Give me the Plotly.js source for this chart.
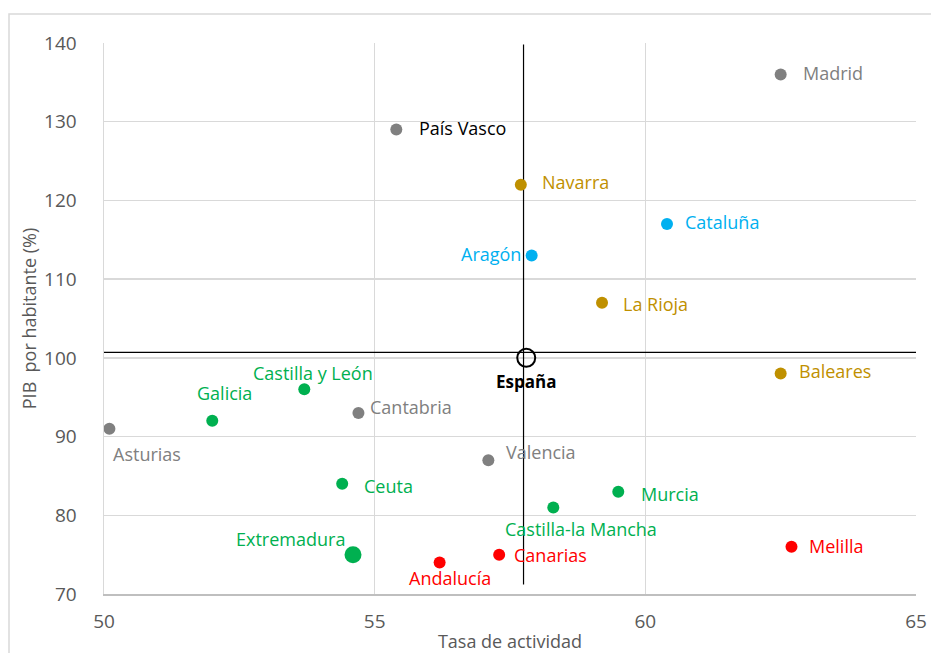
<!DOCTYPE html>
<html><head><meta charset="utf-8">
<script src="https://cdn.plot.ly/plotly-3.0.1.min.js"></script>
<style>html,body{margin:0;padding:0;background:#fff;}#chart{width:931px;height:653px;}</style>
</head><body><div id="chart"></div>
<script>
const regions = ["Madrid","País Vasco","Navarra","Cataluña","Aragón","La Rioja","Baleares","Castilla y León","Cantabria","Galicia","Asturias","Valencia","Ceuta","Murcia","Castilla-la Mancha","Melilla","Extremadura","Canarias","Andalucía"];
const tasaActividad = [62.5,55.4,57.7,60.4,57.9,59.2,62.5,53.7,54.7,52.0,50.1,57.1,54.4,59.5,58.3,62.7,54.6,57.3,56.2];
const pibHabitante = [136,129,122,117,113,107,98,96,93,92,91,87,84,83,81,76,75,75,74];
const groups = ["gray","gray","gold","blue","blue","gold","gold","green","gray","green","gray","gray","green","green","green","red","green","red","red"];
const espanaX = [57.8], espanaY = [100], espanaLabel = "España";
const vLineX = [57.75,57.75], vLineY = [71.2,139.8];
const hLineX = [50,65], hLineY = [100.7,100.7];
const xTicks = [50,55,60,65];
const yTicks = [70,80,90,100,110,120,130,140];

const colorMap = {gray:"#808080", gold:"#bf9000", blue:"#00b0f0", green:"#00b050", red:"#ff0000"};
const labelColor = {"País Vasco":"#000000"};
// label placement (style): [xanchor, xshift, yshift]
const place = {
 "Madrid":["left",20,1],"País Vasco":["left",21,2],"Navarra":["left",19,3],"Cataluña":["left",16,2],
 "Aragón":["right",-9,2],"La Rioja":["left",19,-1],"Baleares":["left",16,3],"Castilla y León":["center",9,16],
 "Cantabria":["left",10,6],"Galicia":["center",12,28],"Asturias":["left",2,-25],"Valencia":["left",16,8],
 "Ceuta":["left",20,-2],"Murcia":["left",21,-2],"Castilla-la Mancha":["center",28,-22],"Melilla":["left",16,1],
 "Extremadura":["right",-6,16],"Canarias":["left",13,0],"Andalucía":["center",10,-15]
};
const FONT = "Open Sans, sans-serif";

const traces = [];
traces.push({x:hLineX,y:hLineY,mode:"lines",line:{color:"#000",width:1.2},hoverinfo:"skip",showlegend:false});
traces.push({x:vLineX,y:vLineY,mode:"lines",line:{color:"#000",width:1.2},hoverinfo:"skip",showlegend:false});
traces.push({
  x:tasaActividad, y:pibHabitante, mode:"markers", showlegend:false, text:regions,
  marker:{color:groups.map(g=>colorMap[g]), opacity:1, line:{width:0}, size:regions.map(r=>r==="Extremadura"?17:12)}
});
traces.push({x:espanaX,y:espanaY,mode:"markers",showlegend:false,
  marker:{symbol:"circle-open",size:18,color:"#000",opacity:1,line:{color:"#000",width:2}}});

const annotations = regions.map((r,i)=>{
  const p = place[r];
  return {x:tasaActividad[i], y:pibHabitante[i], xref:"x", yref:"y", text:r, showarrow:false,
    xanchor:p[0], yanchor:"middle", xshift:p[1], yshift:p[2],
    font:{family:FONT,size:18,color:labelColor[r]||colorMap[groups[i]]}};
});
annotations.push({x:espanaX[0],y:espanaY[0],xref:"x",yref:"y",text:"<b>"+espanaLabel+"</b>",showarrow:false,
  xanchor:"center",yanchor:"middle",yshift:-24,font:{family:FONT,size:17,color:"#000"}});

const layout = {
  width:931, height:653, paper_bgcolor:"#fff", plot_bgcolor:"#fff",
  margin:{l:104,r:15,t:43,b:59},
  font:{family:FONT,color:"#595959"},
  xaxis:{range:[50,65], tickvals:xTicks, showgrid:true, gridcolor:"#d9d9d9", gridwidth:1.5, zeroline:false,
    showline:true, linecolor:"#bfbfbf", linewidth:2, ticks:"outside", ticklen:9, tickcolor:"rgba(0,0,0,0)",
    tickfont:{family:FONT,size:19,color:"#595959"},
    title:{text:"Tasa de actividad", font:{family:FONT,size:18,color:"#595959"}, standoff:8}},
  yaxis:{range:[70,140], tickvals:yTicks, showgrid:true, gridcolor:"#d9d9d9", gridwidth:1.5, zeroline:false,
    showline:true, linecolor:"#d9d9d9", linewidth:1.5, ticks:"outside", ticklen:22, tickcolor:"rgba(0,0,0,0)",
    tickfont:{family:FONT,size:19,color:"#595959"},
    title:{text:"PIB  por habitante (%)", font:{family:FONT,size:18,color:"#595959"}, standoff:3}},
  annotations:annotations,
  shapes:[{type:"rect", xref:"paper", yref:"paper", x0:-0.117, x1:1.05, y0:-0.2, y1:1.0526,
    line:{color:"#d9d9d9",width:1.5}, fillcolor:"rgba(0,0,0,0)", layer:"below"}]
};
Plotly.newPlot("chart", traces, layout, {displayModeBar:false, staticPlot:true});
</script></body></html>
